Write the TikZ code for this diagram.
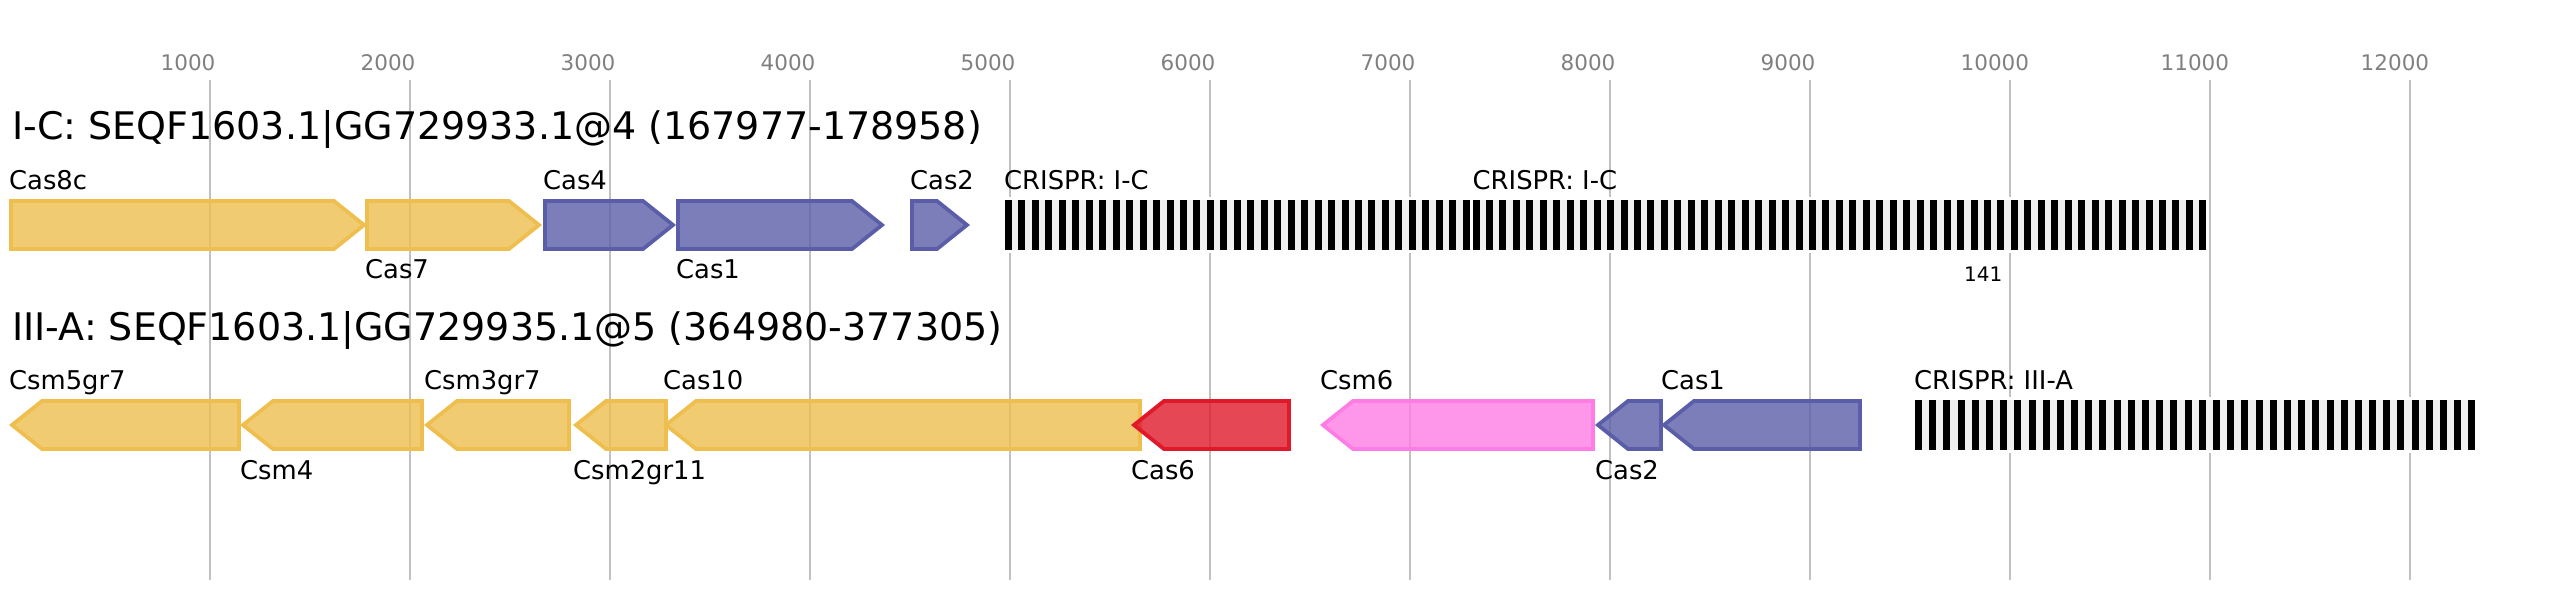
\documentclass[tikz,border=0pt]{standalone}
\usepackage{fontspec}
\setmainfont{DejaVu Sans}
\definecolor{gridgray}{HTML}{C0C0C0}
\definecolor{tickgray}{HTML}{808080}
\definecolor{spacergray}{HTML}{F0F0F0}
\definecolor{yelS}{HTML}{EEBE4E}
\definecolor{bluS}{HTML}{5A5EA8}
\definecolor{redS}{HTML}{E0192A}
\definecolor{pnkS}{HTML}{FE7DE4}
\tikzset{
  gridline/.style={draw=gridgray, line width=2pt},
  gene/.style={line width=3.8pt, line join=miter, fill opacity=0.8},
  ticklab/.style={anchor=base west, inner sep=0pt, text=tickgray, font=\fontsize{21.5}{26}\selectfont},
  title/.style={anchor=base west, inner sep=0pt, font=\fontsize{38}{45}\selectfont},
  lab/.style={anchor=base west, inner sep=0pt, font=\fontsize{25.8}{31}\selectfont},
  small/.style={anchor=base west, inner sep=0pt, font=\fontsize{20}{24}\selectfont},
}
% forward gene: outer start, outer tip, y centre, colour
\newcommand\fgene[4]{%
  \draw[gene, draw=#4, fill=#4] (#1+2,#3-24) -- (#2-33,#3-24) -- (#2-3,#3)
    -- (#2-33,#3+24) -- (#1+2,#3+24) -- cycle;}
% reverse gene: outer tip, outer end, y centre, colour
\newcommand\rgene[4]{%
  \draw[gene, draw=#4, fill=#4] (#2-2,#3-24) -- (#1+33,#3-24) -- (#1+3,#3)
    -- (#1+33,#3+24) -- (#2-2,#3+24) -- cycle;}
% crispr array: start, number of repeats, period, y centre
\newcommand\crisprarr[4]{%
  \pgfmathsetmacro\xend{#1+(#2-1)*#3+7}
  \fill[white] (#1,#4-28) rectangle (\xend,#4+28);
  \fill[spacergray] (#1,#4-25) rectangle (\xend,#4+25);
  \pgfmathtruncatemacro\nlast{#2-1}
  \foreach \i in {0,...,\nlast}{
    \fill[black] ({#1+\i*#3},#4-25) rectangle ({#1+\i*#3+7},#4+25);
  }}
\begin{document}
\begin{tikzpicture}[x=1pt,y=-1pt]
\useasboundingbox (0,0) rectangle (2565,600);
% axis
\foreach \k in {1,...,12}{
  \draw[gridline] ({10+200*\k},80) -- ({10+200*\k},580);
  \node[ticklab] (t\k) at ({10+200*\k-49.5},70) {\k000};
}
% ---- I-C ----
\node[title] (titleIC) at (12,139) {I-C: SEQF1603.1|GG729933.1@4 (167977-178958)};
\fgene{9}{367}{225}{yelS}
\fgene{365}{542}{225}{yelS}
\fgene{543}{676}{225}{bluS}
\fgene{676}{885}{225}{bluS}
\fgene{910}{970}{225}{bluS}
\crisprarr{1005}{35}{13.46}{225}
\crisprarr{1472.5}{55}{13.46}{225}
\node[lab] (cas8c) at (9,189) {Cas8c};
\node[lab] (cas7) at (365,278) {Cas7};
\node[lab] (cas4) at (543,189) {Cas4};
\node[lab] (cas1a) at (676,278) {Cas1};
\node[lab] (cas2a) at (910,189) {Cas2};
\node[lab] (crIC1) at (1004,189) {CRISPR: I-C};
\node[lab] (crIC2) at (1472.5,189) {CRISPR: I-C};
\node[small] (n141) at (1964,281) {141};
% ---- III-A ----
\node[title] (titleIIIA) at (12,340) {III-A: SEQF1603.1|GG729935.1@5 (364980-377305)};
\rgene{9}{241}{425}{yelS}
\rgene{240}{424}{425}{yelS}
\rgene{424}{571}{425}{yelS}
\rgene{573}{668}{425}{yelS}
\rgene{663}{1142}{425}{yelS}
\rgene{1131}{1291}{425}{redS}
\rgene{1320}{1595}{425}{pnkS}
\rgene{1595}{1663}{425}{bluS}
\rgene{1661}{1862}{425}{bluS}
\crisprarr{1915}{40}{14.19}{425}
\node[lab] (csm5) at (9,389) {Csm5gr7};
\node[lab] (csm4) at (240,479) {Csm4};
\node[lab] (csm3) at (424,389) {Csm3gr7};
\node[lab] (csm2) at (573,479) {Csm2gr11};
\node[lab] (cas10) at (663,389) {Cas10};
\node[lab] (cas6) at (1131,479) {Cas6};
\node[lab] (csm6) at (1320,389) {Csm6};
\node[lab] (cas2b) at (1595,479) {Cas2};
\node[lab] (cas1b) at (1661,389) {Cas1};
\node[lab] (crIIIA) at (1914,389) {CRISPR: III-A};
\end{tikzpicture}
\end{document}
